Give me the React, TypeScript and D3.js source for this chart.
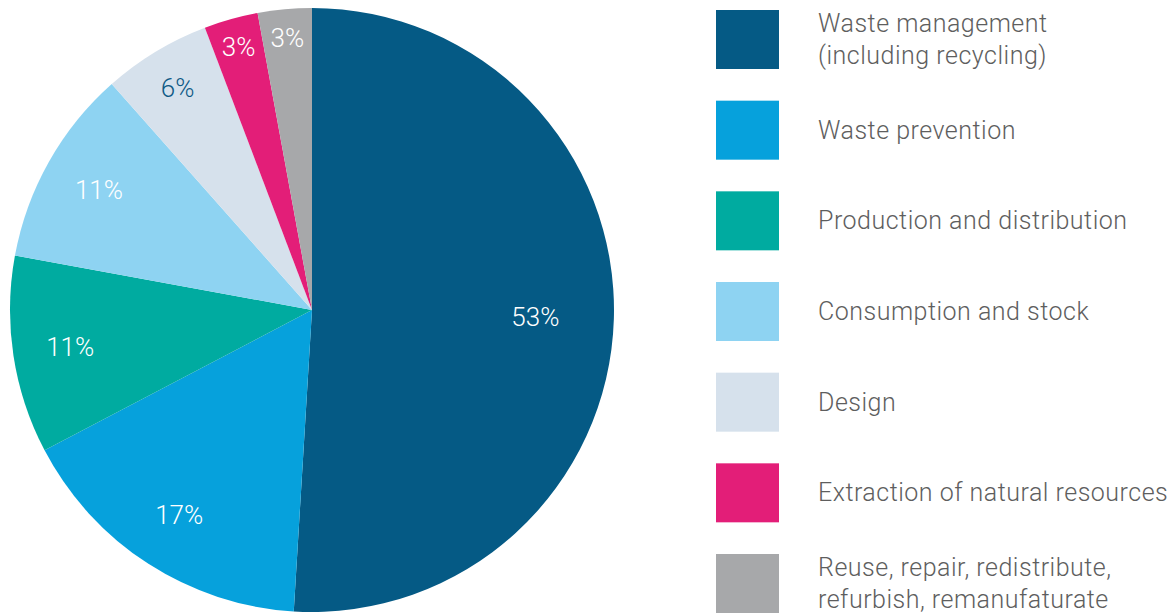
import React from "react";
import * as d3 from "d3";

const categories: string[][] = [
  ["Waste management", "(including recycling)"],
  ["Waste prevention"],
  ["Production and distribution"],
  ["Consumption and stock"],
  ["Design"],
  ["Extraction of natural resources"],
  ["Reuse, repair, redistribute,", "refurbish, remanufaturate"],
];
const values: number[] = [53, 17, 11, 11, 6, 3, 3];
const valueLabels: string[] = ["53%", "17%", "11%", "11%", "6%", "3%", "3%"];
const colors: string[] = ["#055a85", "#06a1dc", "#00aba0", "#8ed3f2", "#d6e1ec", "#e31e78", "#a7a8aa"];
const labelColors: string[] = ["#ffffff", "#ffffff", "#ffffff", "#ffffff", "#0f5a86", "#ffffff", "#ffffff"];

const W = 1173;
const H = 614;
const cx = 312;
const cy = 310;
const R = 302;

export default function App() {
  const pie = d3.pie<number>().sort(null).value((d) => d);
  const arcs = pie(values);
  const arcGen = d3.arc<d3.PieArcDatum<number>>().innerRadius(0).outerRadius(R);
  const labelR = (i: number) => {
    const frac = values[i] / d3.sum(values);
    if (frac > 0.4) return R * 0.74;
    if (frac > 0.08) return R * 0.81;
    if (frac > 0.04) return R * 0.86;
    return R * 0.905;
  };
  const legendY = d3.scaleLinear().domain([0, 6]).range([10, 554]);
  return (
    <svg width={W} height={H} style={{ position: "absolute", left: 0, top: 0, background: "#fff" }}>
      <g transform={`translate(${cx},${cy})`}>
        {arcs.map((a, i) => (
          <path key={i} d={arcGen(a) || ""} fill={colors[i]} />
        ))}
        {arcs.map((a, i) => {
          const r = labelR(i);
          const la = d3.arc<d3.PieArcDatum<number>>().innerRadius(r).outerRadius(r);
          const [x, y] = la.centroid(a);
          return (
            <text
              key={i}
              x={x}
              y={y}
              textAnchor="middle"
              dominantBaseline="central"
              fontFamily="Roboto, sans-serif"
              fontWeight={300}
              fontSize={26}
              fill={labelColors[i]}
            >
              {valueLabels[i]}
            </text>
          );
        })}
      </g>
      {categories.map((lines, i) => {
        const y0 = legendY(i);
        const mid = y0 + 29.5;
        return (
          <g key={i}>
            <rect x={716} y={y0} width={63} height={59} fill={colors[i]} />
            {lines.map((t, j) => (
              <text
                key={j}
                x={818}
                y={mid + (j - (lines.length - 1) / 2) * 32}
                dominantBaseline="central"
                fontFamily="Roboto, sans-serif"
                fontWeight={300}
                fontSize={25}
                letterSpacing={0.5}
                fill="#5e5e5e"
              >
                {t}
              </text>
            ))}
          </g>
        );
      })}
    </svg>
  );
}
